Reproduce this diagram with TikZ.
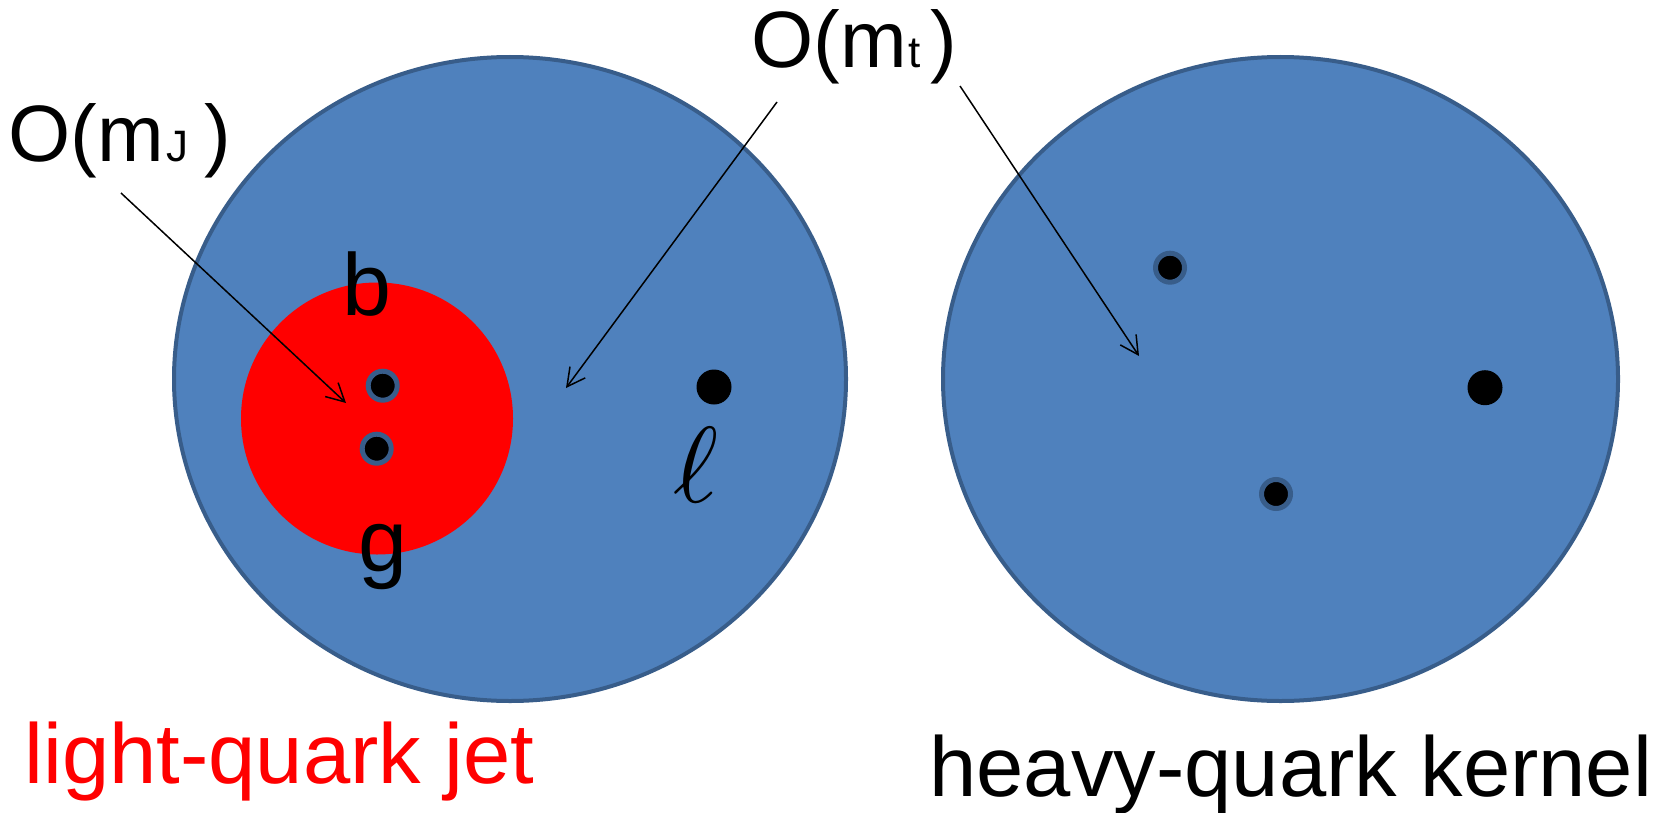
\documentclass[tikz,border=0pt]{standalone}
\usepackage{fontspec}
\setmainfont{Liberation Sans}
\newfontfamily\labfont{Liberation Sans}
\usetikzlibrary{arrows.meta,shapes.geometric}
\definecolor{fillblue}{HTML}{4F81BD}
\definecolor{edgeblue}{HTML}{385D8A}
\begin{document}
\begin{tikzpicture}[x=0.5pt,y=-0.5pt,
  region/.style={ellipse, draw=edgeblue, fill=fillblue, line width=2pt, inner sep=0pt},
  jetdisc/.style={circle, fill=red, inner sep=0pt, minimum size=136pt},
  ringdot/.style={circle, fill=black, draw=edgeblue, line width=2.5pt, minimum size=14.5pt, inner sep=0pt},
  bigdot/.style={circle, fill=black, minimum size=17.5pt, inner sep=0pt},
  pointer/.style={-{Straight Barb[length=9pt,width=9.5pt]}, line width=0.75pt, draw=black},
  orderlab/.style={inner sep=0pt, anchor=base west, font=\labfont\fontsize{40pt}{46pt}\selectfont},
  subtag/.style={inner sep=0pt, anchor=base west, font=\labfont\fontsize{22pt}{24pt}\selectfont},
  partlab/.style={inner sep=0pt, anchor=base, font=\labfont\fontsize{44pt}{50pt}\selectfont},
  caption/.style={inner sep=0pt, anchor=base west, font=\labfont\fontsize{42.5pt}{50pt}\selectfont}
]
\useasboundingbox (0,0) rectangle (1669,813);
\fill[white] (0,0) rectangle (1669,813);

% regions
\node[region, minimum width=336pt, minimum height=322pt] (left) at (510,379) {};
\node[region, minimum width=337.5pt, minimum height=322pt] (right) at (1280.5,379) {};
\node[jetdisc] (jet) at (377,418.5) {};

% particles
\node[ringdot] (bq) at (382.7,385.7) {};
\node[ringdot] (gq) at (376.7,448.7) {};
\node[bigdot] (lep) at (714,387) {};
\node[ringdot] (k1) at (1170,267.7) {};
\node[ringdot] (k2) at (1276,494) {};
\node[bigdot] (k3) at (1485,387.7) {};

% labels
\node[partlab] (blab) at (367,315) {b};
\node[partlab] (glab) at (383,571) {g};
\node[inner sep=0pt, anchor=base, scale=5.4] (ell) at (696,502) {$\ell$};

\node[orderlab] (mJ) at (8,162) {O(m};
\node[subtag] (mJsub) at (166,162) {J};
\node[orderlab] (mJclose) at (204,162) {)};
\node[orderlab] (mt) at (751,68) {O(m};
\node[subtag] (mtsub) at (908,68) {t};
\node[orderlab] (mtclose) at (930,68) {)};

\node[caption, text=red] (ljet) at (24,783) {light-quark jet};
\node[caption] (hkern) at (929,796) {heavy-quark kernel};

% arrows
\coordinate (mJs) at (121,193);
\coordinate (mJe) at (346,403);
\coordinate (mtls) at (777,102);
\coordinate (mtle) at (566,388);
\coordinate (mtrs) at (960,86);
\coordinate (mtre) at (1139,356);
\draw[pointer] (mJs) -- (mJe);
\draw[pointer] (mtls) -- (mtle);
\draw[pointer] (mtrs) -- (mtre);
\end{tikzpicture}
\end{document}
